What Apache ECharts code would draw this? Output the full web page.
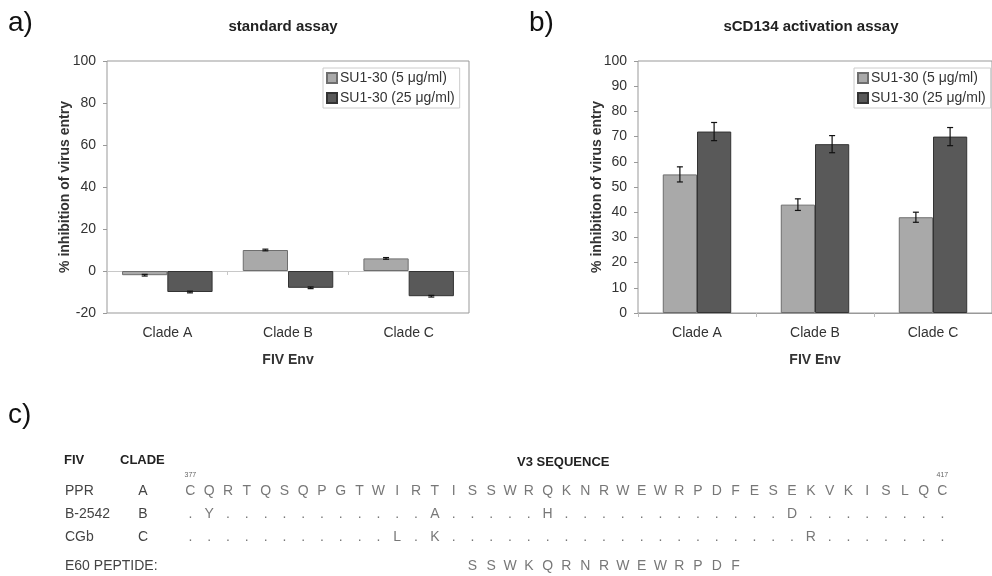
<!DOCTYPE html>
<html>
<head>
<meta charset="utf-8">
<script src="https://cdn.jsdelivr.net/npm/echarts@6/dist/echarts.min.js"></script>
<style>
html,body{margin:0;padding:0;background:#fff;}
#chart{width:992px;height:576px;}
</style>
</head>
<body>
<div id="chart"></div>
<script>
// ---- data ----
const categories = ['Clade A', 'Clade B', 'Clade C'];
const seriesNames = ['SU1-30 (5 \u03bcg/ml)', 'SU1-30 (25 \u03bcg/ml)'];
// panel a: standard assay
const stdLow = [-2, 10, 6];
const stdHigh = [-10, -8, -12];
const stdLowErr = [0.4, 0.4, 0.4];
const stdHighErr = [0.4, 0.4, 0.4];
// panel b: sCD134 activation assay
const actLow = [55, 43, 38];
const actHigh = [72, 67, 70];
const actLowErr = [3, 2.3, 2];
const actHighErr = [3.6, 3.4, 3.6];
const yTicksA = {min: -20, max: 100, interval: 20};
const yTicksB = {min: 0, max: 100, interval: 10};
// panel c: V3 sequence alignment
const isolates = ['PPR', 'B-2542', 'CGb'];
const clades = ['A', 'B', 'C'];
const startPos = 377;
const refSeq = 'CQRTQSQPGTWIRTISSWRQKNRWEWRPDFESEKVKISLQC';
const alignRows = [
  'CQRTQSQPGTWIRTISSWRQKNRWEWRPDFESEKVKISLQC',
  '.Y...........A.....H............D........',
  '...........L.K...................R.......'
];
const peptideLabel = 'E60 PEPTIDE:';
const peptideRow = '...............SSWKQRNRWEWRPDF...........';

// ---- styles ----
const FONT = '"Liberation Sans", Arial, sans-serif';
const lightColor = '#a9a9a9', lightBorder = '#6e6e6e';
const darkColor = '#595959', darkBorder = '#333';
const txt = '#333';

function errSeries(lo, hi, errLo, errHi, xIdx, yIdx, gapFrac) {
  const data = [];
  lo.forEach((v, i) => data.push([i, v - errLo[i], v + errLo[i], -1]));
  hi.forEach((v, i) => data.push([i, v - errHi[i], v + errHi[i], 1]));
  return {
    type: 'custom', xAxisIndex: xIdx, yAxisIndex: yIdx, z: 10, silent: true,
    data: data,
    encode: {x: 0, y: [1, 2]},
    renderItem: function (params, api) {
      const band = api.size([1, 0])[0];
      const off = api.value(3) * band * (1 - gapFrac) / 4;
      const p1 = api.coord([api.value(0), api.value(1)]);
      const p2 = api.coord([api.value(0), api.value(2)]);
      const x = p1[0] + off, cw = 3;
      const st = {stroke: '#111', lineWidth: 1.2};
      return {type: 'group', children: [
        {type: 'line', shape: {x1: x, y1: p1[1], x2: x, y2: p2[1]}, style: st},
        {type: 'line', shape: {x1: x - cw, y1: p1[1], x2: x + cw, y2: p1[1]}, style: st},
        {type: 'line', shape: {x1: x - cw, y1: p2[1], x2: x + cw, y2: p2[1]}, style: st}
      ]};
    }
  };
}

function cellData(rowStrs) {
  const out = [];
  rowStrs.forEach((s, r) => {
    for (let i = 0; i < s.length; i++) {
      out.push([i, r, s[i]]);
    }
  });
  return out;
}

const positions = Array.from(refSeq, (_, i) => String(startPos + i));

const gapA = 0.25, gapB = 0.42;

const yAxisCommon = {
  type: 'value',
  axisLine: {show: false},
  axisTick: {show: true, length: 4, lineStyle: {color: '#999'}},
  splitLine: {show: false},
  axisLabel: {fontSize: 14, color: txt, fontFamily: FONT, margin: 11},
  name: '% inhibition of virus entry',
  nameLocation: 'middle',
  nameRotate: 90,
  nameMoveOverlap: false,
  nameTextStyle: {fontSize: 14, fontWeight: 'bold', color: txt, fontFamily: FONT}
};

const legendCommon = {
  orient: 'vertical', top: 68, padding: [3, 5, 3, 3], itemGap: 6, itemWidth: 10, itemHeight: 10,
  icon: 'rect', borderColor: '#ccc', borderWidth: 1, data: seriesNames, selectedMode: false,
  textStyle: {fontSize: 14, color: txt, fontFamily: FONT, padding: [0, 0, 0, -2]}
};

const option = {
  animation: false,
  textStyle: {fontFamily: FONT},
  grid: [
    {left: 107, top: 61, width: 362, height: 252, show: true, borderColor: '#999', borderWidth: 1},
    {left: 638, top: 61, width: 360, height: 252, show: true, borderColor: '#999', borderWidth: 1},
    {left: 181, top: 479.5, width: 770.8, height: 69},
    {left: 181, top: 556.5, width: 770.8, height: 23}
  ],
  legend: [
    Object.assign({}, legendCommon, {left: 323}),
    Object.assign({}, legendCommon, {left: 854})
  ],
  xAxis: [
    {gridIndex: 0, type: 'category', data: categories, position: 'bottom',
     axisLine: {show: false, onZero: false}, axisTick: {show: false},
     axisLabel: {fontSize: 14, color: txt, margin: 13, fontFamily: FONT},
     name: 'FIV Env', nameLocation: 'middle', nameGap: 40,
     nameTextStyle: {fontSize: 14, fontWeight: 'bold', color: txt, fontFamily: FONT}},
    {gridIndex: 0, type: 'category', data: categories, position: 'bottom',
     axisLine: {show: true, onZero: true, onZeroAxisIndex: 0, lineStyle: {color: '#c8c8c8'}},
     axisTick: {show: true, length: 4, lineStyle: {color: '#c8c8c8'}},
     axisLabel: {show: false}},
    {gridIndex: 1, type: 'category', data: categories, position: 'bottom',
     axisLine: {show: true, lineStyle: {color: '#999'}},
     axisTick: {show: true, length: 4, lineStyle: {color: '#bbb'}},
     axisLabel: {fontSize: 14, color: txt, margin: 13, fontFamily: FONT},
     name: 'FIV Env', nameLocation: 'middle', nameGap: 40,
     nameTextStyle: {fontSize: 14, fontWeight: 'bold', color: txt, fontFamily: FONT}},
    {gridIndex: 2, type: 'category', data: positions, position: 'top',
     axisLine: {show: false}, axisTick: {show: false},
     axisLabel: {interval: 0, fontSize: 7, color: '#666', margin: 1,
       formatter: (v, i) => (i === 0 || i === positions.length - 1) ? v : ''}},
    {gridIndex: 3, type: 'category', data: positions, position: 'top',
     axisLine: {show: false}, axisTick: {show: false}, axisLabel: {show: false}}
  ],
  yAxis: [
    Object.assign({}, yAxisCommon, {gridIndex: 0, min: yTicksA.min, max: yTicksA.max, interval: yTicksA.interval, nameGap: 35}),
    Object.assign({}, yAxisCommon, {gridIndex: 1, min: yTicksB.min, max: yTicksB.max, interval: yTicksB.interval, nameGap: 34}),
    {gridIndex: 2, type: 'category', data: isolates, inverse: true, position: 'left',
     axisLine: {show: false}, axisTick: {show: false}, splitLine: {show: false},
     axisLabel: {align: 'left', margin: 116, fontSize: 14, color: '#444', fontFamily: FONT}},
    {gridIndex: 2, type: 'category', data: clades, inverse: true, position: 'left',
     axisLine: {show: false}, axisTick: {show: false}, splitLine: {show: false},
     axisLabel: {align: 'center', margin: 38, fontSize: 14, color: '#444', fontFamily: FONT}},
    {gridIndex: 3, type: 'category', data: [peptideLabel], inverse: true, position: 'left',
     axisLine: {show: false}, axisTick: {show: false}, splitLine: {show: false},
     axisLabel: {align: 'left', margin: 116, fontSize: 14, color: '#444', fontFamily: FONT}}
  ],
  series: [
    {type: 'bar', name: seriesNames[0], xAxisIndex: 0, yAxisIndex: 0, data: stdLow,
     barGap: '0%', barCategoryGap: (gapA * 100) + '%',
     itemStyle: {color: lightColor, borderColor: lightBorder, borderWidth: 1}},
    {type: 'bar', name: seriesNames[1], xAxisIndex: 0, yAxisIndex: 0, data: stdHigh,
     barGap: '0%', barCategoryGap: (gapA * 100) + '%',
     itemStyle: {color: darkColor, borderColor: darkBorder, borderWidth: 1}},
    errSeries(stdLow, stdHigh, stdLowErr, stdHighErr, 0, 0, gapA),
    {type: 'bar', name: seriesNames[0], xAxisIndex: 2, yAxisIndex: 1, data: actLow,
     barGap: '0%', barCategoryGap: (gapB * 100) + '%',
     itemStyle: {color: lightColor, borderColor: lightBorder, borderWidth: 1}},
    {type: 'bar', name: seriesNames[1], xAxisIndex: 2, yAxisIndex: 1, data: actHigh,
     barGap: '0%', barCategoryGap: (gapB * 100) + '%',
     itemStyle: {color: darkColor, borderColor: darkBorder, borderWidth: 1}},
    errSeries(actLow, actHigh, actLowErr, actHighErr, 2, 1, gapB),
    {type: 'scatter', xAxisIndex: 3, yAxisIndex: 2, symbol: 'rect', symbolSize: 4,
     itemStyle: {color: 'transparent'}, silent: true,
     data: cellData(alignRows),
     label: {show: true, position: 'inside', formatter: p => p.value[2],
       fontSize: 14, color: '#555', fontFamily: FONT}},
    {type: 'scatter', xAxisIndex: 4, yAxisIndex: 4, symbol: 'rect', symbolSize: 4,
     itemStyle: {color: 'transparent'}, silent: true,
     data: cellData([peptideRow]).filter(d => d[2] !== '.'),
     label: {show: true, position: 'inside', formatter: p => p.value[2],
       fontSize: 14, color: '#555', fontFamily: FONT}}
  ],
  graphic: [
    {type: 'text', left: 8, top: 9, style: {text: 'a)', fill: '#111', font: '28px ' + FONT}},
    {type: 'text', left: 529, top: 9, style: {text: 'b)', fill: '#111', font: '28px ' + FONT}},
    {type: 'text', left: 8, top: 401, style: {text: 'c)', fill: '#111', font: '28px ' + FONT}},
    {type: 'text', x: 283, y: 27, style: {text: 'standard assay', align: 'center', verticalAlign: 'middle', font: 'bold 15px ' + FONT, fill: '#222'}},
    {type: 'text', x: 811, y: 27, style: {text: 'sCD134 activation assay', align: 'center', verticalAlign: 'middle', font: 'bold 15px ' + FONT, fill: '#222'}},
    {type: 'text', x: 64, y: 460, style: {text: 'FIV', verticalAlign: 'middle', font: 'bold 13px ' + FONT, fill: '#222'}},
    {type: 'text', x: 120, y: 460, style: {text: 'CLADE', verticalAlign: 'middle', font: 'bold 13px ' + FONT, fill: '#222'}},
    {type: 'text', x: 517, y: 462, style: {text: 'V3 SEQUENCE', verticalAlign: 'middle', font: 'bold 13px ' + FONT, fill: '#222'}}
  ]
};

const chart = echarts.init(document.getElementById('chart'));
chart.setOption(option);
</script>
</body>
</html>
